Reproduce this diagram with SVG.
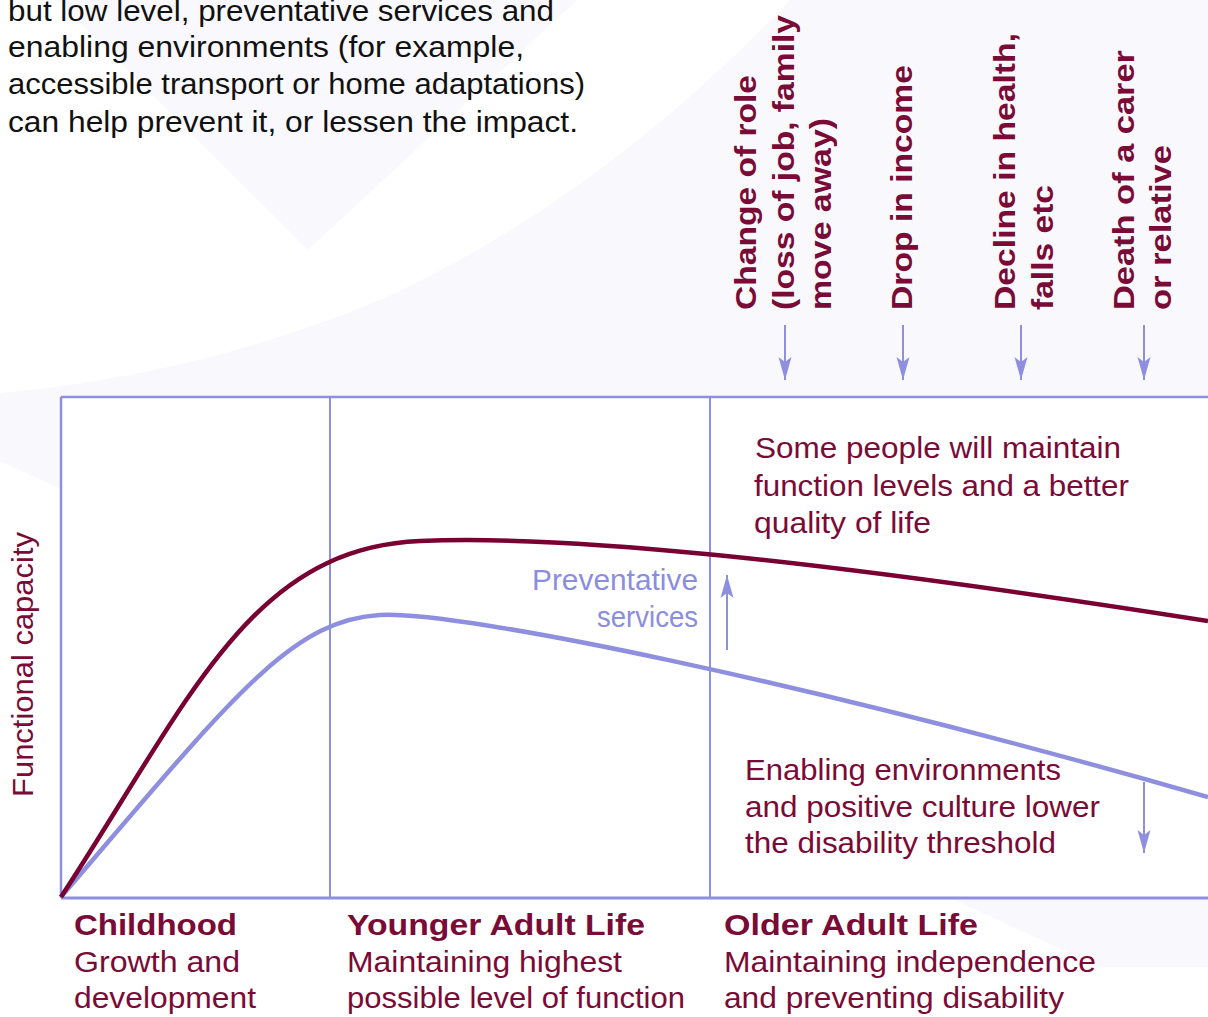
<svg xmlns="http://www.w3.org/2000/svg" width="1208" height="1017" viewBox="0 0 1208 1017">
<style>
.t { font-family: "Liberation Sans", Arial, sans-serif; font-size: 30px; fill: #7a0a36; }
.blk { fill: #111111; font-size: 29px; }
.b { font-weight: bold; }
.lav { fill: #8b8de0; }
.ax { stroke: #8e90df; fill: none; }
.conn { stroke: #8e90df; stroke-width: 2; fill: none; }
</style>
<defs>
<marker id="head" markerUnits="userSpaceOnUse" markerWidth="30" markerHeight="16" refX="0" refY="0" viewBox="-24 -8 26 16" orient="auto">
<path d="M0,0 L-23,-6.5 L-18,0 L-23,6.5 Z" fill="#8e90df"/>
</marker>
</defs>
<g id="background">
<rect x="0" y="0" width="1208" height="1017" fill="#ffffff"/>
<path d="M790,0 Q600,200 380,300 Q200,375 0,393 L0,461 L1100,967 L1208,967 L1208,0 Z" fill="#f9f9fd"/>
<path d="M57,0 L308,250 L577,0 Z" fill="#f9f9fd"/>
</g>
<g id="intro-text">
<text class="t blk" x="8" y="21" textLength="546" lengthAdjust="spacingAndGlyphs">but low level, preventative services and</text>
<text class="t blk" x="8" y="57" textLength="516" lengthAdjust="spacingAndGlyphs">enabling environments (for example,</text>
<text class="t blk" x="8" y="94" textLength="577" lengthAdjust="spacingAndGlyphs">accessible transport or home adaptations)</text>
<text class="t blk" x="8" y="132" textLength="570" lengthAdjust="spacingAndGlyphs">can help prevent it, or lessen the impact.</text>
</g>
<g id="chart-frame">
<rect x="61" y="397" width="1160" height="501" fill="#ffffff"/>
<line class="ax" x1="61" y1="397" x2="1208" y2="397" stroke-width="2.5"/>
<line class="ax" x1="61" y1="397" x2="61" y2="898" stroke-width="2.5"/>
<line class="ax" x1="61" y1="898" x2="1208" y2="898" stroke-width="3"/>
<line class="ax" x1="330" y1="397" x2="330" y2="898" stroke-width="2"/>
<line class="ax" x1="710" y1="397" x2="710" y2="898" stroke-width="2"/>
</g>
<g id="curve-threshold">
<path d="M61,897 C230,700 290,620 380,615 C460,611 800,680 1208,797" fill="none" stroke="#8e90df" stroke-width="4.5"/>
</g>
<g id="curve-maintained">
<path d="M61,897 C190,700 250,548 420,541 C560,535 800,557 1208,621" fill="none" stroke="#780032" stroke-width="4.5"/>
</g>
<g id="connectors">
<line class="conn" x1="785" y1="325" x2="785" y2="380" marker-end="url(#head)"/>
<line class="conn" x1="903" y1="325" x2="903" y2="380" marker-end="url(#head)"/>
<line class="conn" x1="1021" y1="325" x2="1021" y2="380" marker-end="url(#head)"/>
<line class="conn" x1="1144" y1="325" x2="1144" y2="380" marker-end="url(#head)"/>
<line class="conn" x1="727" y1="650" x2="727" y2="575" marker-end="url(#head)"/>
<line class="conn" x1="1144" y1="782" x2="1144" y2="853" marker-end="url(#head)"/>
</g>
<g id="event-change-of-role">
<text class="t b" transform="translate(756,310) rotate(-90)" textLength="235" lengthAdjust="spacingAndGlyphs">Change of role</text>
<text class="t b" transform="translate(794,310) rotate(-90)" textLength="295" lengthAdjust="spacingAndGlyphs">(loss of job, family</text>
<text class="t b" transform="translate(831,310) rotate(-90)" textLength="192" lengthAdjust="spacingAndGlyphs">move away)</text>
</g>
<g id="event-drop-in-income">
<text class="t b" transform="translate(912,310) rotate(-90)" textLength="245" lengthAdjust="spacingAndGlyphs">Drop in income</text>
</g>
<g id="event-decline-in-health">
<text class="t b" transform="translate(1015,310) rotate(-90)" textLength="277" lengthAdjust="spacingAndGlyphs">Decline in health,</text>
<text class="t b" transform="translate(1053,310) rotate(-90)" textLength="125" lengthAdjust="spacingAndGlyphs">falls etc</text>
</g>
<g id="event-death-of-carer">
<text class="t b" transform="translate(1134,310) rotate(-90)" textLength="260" lengthAdjust="spacingAndGlyphs">Death of a carer</text>
<text class="t b" transform="translate(1171,310) rotate(-90)" textLength="165" lengthAdjust="spacingAndGlyphs">or relative</text>
</g>
<g id="axis-label">
<text class="t" font-size="28" transform="translate(33,797) rotate(-90)" textLength="265" lengthAdjust="spacingAndGlyphs">Functional capacity</text>
</g>
<g id="note-maintain">
<text class="t" x="755" y="458" textLength="366" lengthAdjust="spacingAndGlyphs">Some people will maintain</text>
<text class="t" x="754" y="496" textLength="375" lengthAdjust="spacingAndGlyphs">function levels and a better</text>
<text class="t" x="754" y="533" textLength="177" lengthAdjust="spacingAndGlyphs">quality of life</text>
</g>
<g id="note-preventative">
<text class="t lav" x="698" y="590" text-anchor="end" textLength="166" lengthAdjust="spacingAndGlyphs">Preventative</text>
<text class="t lav" x="698" y="627" text-anchor="end" textLength="101" lengthAdjust="spacingAndGlyphs">services</text>
</g>
<g id="note-enabling">
<text class="t" x="745" y="780" textLength="316" lengthAdjust="spacingAndGlyphs">Enabling environments</text>
<text class="t" x="745" y="817" textLength="355" lengthAdjust="spacingAndGlyphs">and positive culture lower</text>
<text class="t" x="745" y="853" textLength="311" lengthAdjust="spacingAndGlyphs">the disability threshold</text>
</g>
<g id="stage-childhood">
<text class="t b" x="74" y="935" textLength="163" lengthAdjust="spacingAndGlyphs">Childhood</text>
<text class="t" x="74" y="972" textLength="166" lengthAdjust="spacingAndGlyphs">Growth and</text>
<text class="t" x="74" y="1008" textLength="182" lengthAdjust="spacingAndGlyphs">development</text>
</g>
<g id="stage-younger-adult">
<text class="t b" x="347" y="935" textLength="298" lengthAdjust="spacingAndGlyphs">Younger Adult Life</text>
<text class="t" x="347" y="972" textLength="275" lengthAdjust="spacingAndGlyphs">Maintaining highest</text>
<text class="t" x="347" y="1008" textLength="338" lengthAdjust="spacingAndGlyphs">possible level of function</text>
</g>
<g id="stage-older-adult">
<text class="t b" x="724" y="935" textLength="254" lengthAdjust="spacingAndGlyphs">Older Adult Life</text>
<text class="t" x="724" y="972" textLength="372" lengthAdjust="spacingAndGlyphs">Maintaining independence</text>
<text class="t" x="724" y="1008" textLength="340" lengthAdjust="spacingAndGlyphs">and preventing disability</text>
</g>
</svg>
